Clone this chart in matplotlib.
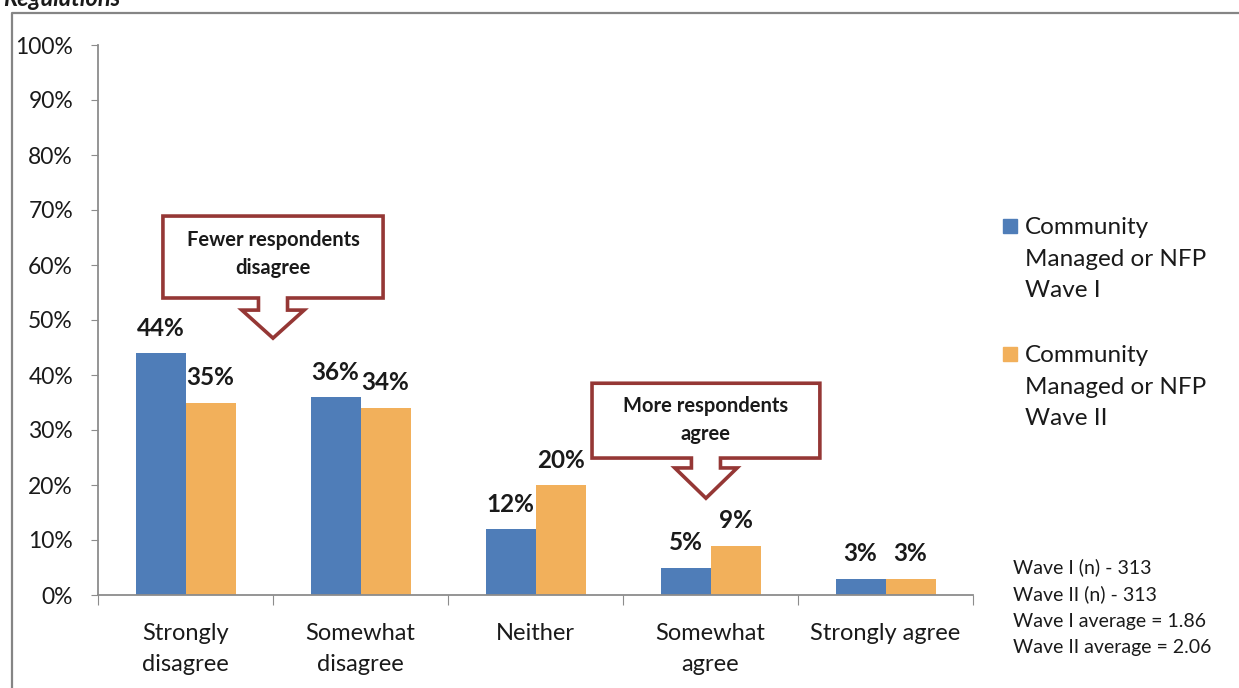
import matplotlib.pyplot as plt
from matplotlib.patches import Polygon, Rectangle
from matplotlib.lines import Line2D
import numpy as np

plt.rcParams['font.family'] = ['Lato', 'DejaVu Sans']

categories = ['Strongly\ndisagree', 'Somewhat\ndisagree', 'Neither', 'Somewhat\nagree', 'Strongly agree']
wave1 = [44, 36, 12, 5, 3]
wave2 = [35, 34, 20, 9, 3]
series_names = ['Community\nManaged or NFP\nWave I', 'Community\nManaged or NFP\nWave II']
notes = ['Wave I (n) - 313', 'Wave II (n) - 313', 'Wave I average = 1.86', 'Wave II average = 2.06']

blue = '#4F7DB8'
orange = '#F2B05B'
grey = '#8C8C8C'
red = '#953735'
txt = '#1A1A1A'

W, H = 1239, 688
fig = plt.figure(figsize=(W / 100, H / 100), dpi=100)

# frame around the chart area (only top and left edges show)
fig.add_artist(Line2D([12 / W, 12 / W, 1], [0, 1 - 13 / H, 1 - 13 / H],
                      transform=fig.transFigure, color='#858585', lw=1.6))
fig.text(3 / W, 1 - 6 / H, 'Regulations', fontsize=17, fontweight='bold',
         fontstyle='italic', va='baseline', ha='left', color=txt)

ax = fig.add_axes([98 / W, (H - 595) / H, 875 / W, 550 / H])
x = np.arange(len(categories))
w = 50 / 175
b1 = ax.bar(x - w / 2, wave1, w, color=blue, zorder=2)
b2 = ax.bar(x + w / 2, wave2, w, color=orange, zorder=2)

for bars, vals in ((b1, wave1), (b2, wave2)):
    for r, v in zip(bars, vals):
        ax.annotate(f'{v}%', (r.get_x() + r.get_width() / 2, v), xytext=(0, 25),
                    textcoords='offset pixels', ha='center', va='center',
                    fontsize=17.5, fontweight='bold', color=txt)

ax.set_xlim(-0.5, len(categories) - 0.5)
ax.set_ylim(0, 100)
ax.set_yticks(range(0, 101, 10))
ax.set_yticklabels([f'{v}%' for v in range(0, 101, 10)])
ax.set_xticks(np.arange(-0.5, len(categories)))
ax.set_xticklabels([])
ax.set_xticks(x, minor=True)
ax.set_xticklabels(categories, minor=True, linespacing=1.59)
ax.tick_params(axis='y', length=5, color=grey, pad=13, labelsize=16.5, labelcolor=txt)
ax.tick_params(axis='x', which='major', length=7, color=grey)
ax.tick_params(axis='x', which='minor', length=0, pad=20, labelsize=17, labelcolor=txt)
for s in ('top', 'right'):
    ax.spines[s].set_visible(False)
for s in ('left', 'bottom'):
    ax.spines[s].set_color(grey)
    ax.spines[s].set_linewidth(1.3)


def callout(cx, half, top, bottom, stem_end, tip, label, ty):
    stem, head = 0.083, 0.178
    pts = [(cx - half, top), (cx + half, top), (cx + half, bottom),
           (cx + stem, bottom), (cx + stem, stem_end), (cx + head, stem_end),
           (cx, tip), (cx - head, stem_end), (cx - stem, stem_end),
           (cx - stem, bottom), (cx - half, bottom)]
    ax.add_patch(Polygon(pts, closed=True, facecolor='white', edgecolor=red,
                         lw=2.6, joinstyle='miter', zorder=5, clip_on=False))
    ax.text(cx, ty, label, ha='center', va='center', fontsize=14.5,
            fontweight='bold', color=txt, linespacing=1.49, zorder=6)


callout(0.5, 0.629, 68.9, 54.0, 51.8, 46.7, 'Fewer respondents\ndisagree', 62.0)
callout(2.974, 0.651, 38.5, 24.9, 23.1, 17.6, 'More respondents\nagree', 31.8)

# legend drawn by hand so the square sits beside the first line
for (yc, col, name) in ((226, blue, series_names[0]), (354, orange, series_names[1])):
    fig.add_artist(Rectangle((1003 / W, 1 - (yc + 7) / H), 14 / W, 14 / H,
                             transform=fig.transFigure, color=col))
    fig.text(1025 / W, 1 - (yc - 9) / H, name, fontsize=17.5, color=txt,
             va='top', ha='left', linespacing=1.62)

fig.text(1013 / W, 1 - 558 / H, '\n'.join(notes), fontsize=14, color=txt,
         va='top', ha='left', linespacing=1.65)

fig.savefig('out.png', dpi=100)
